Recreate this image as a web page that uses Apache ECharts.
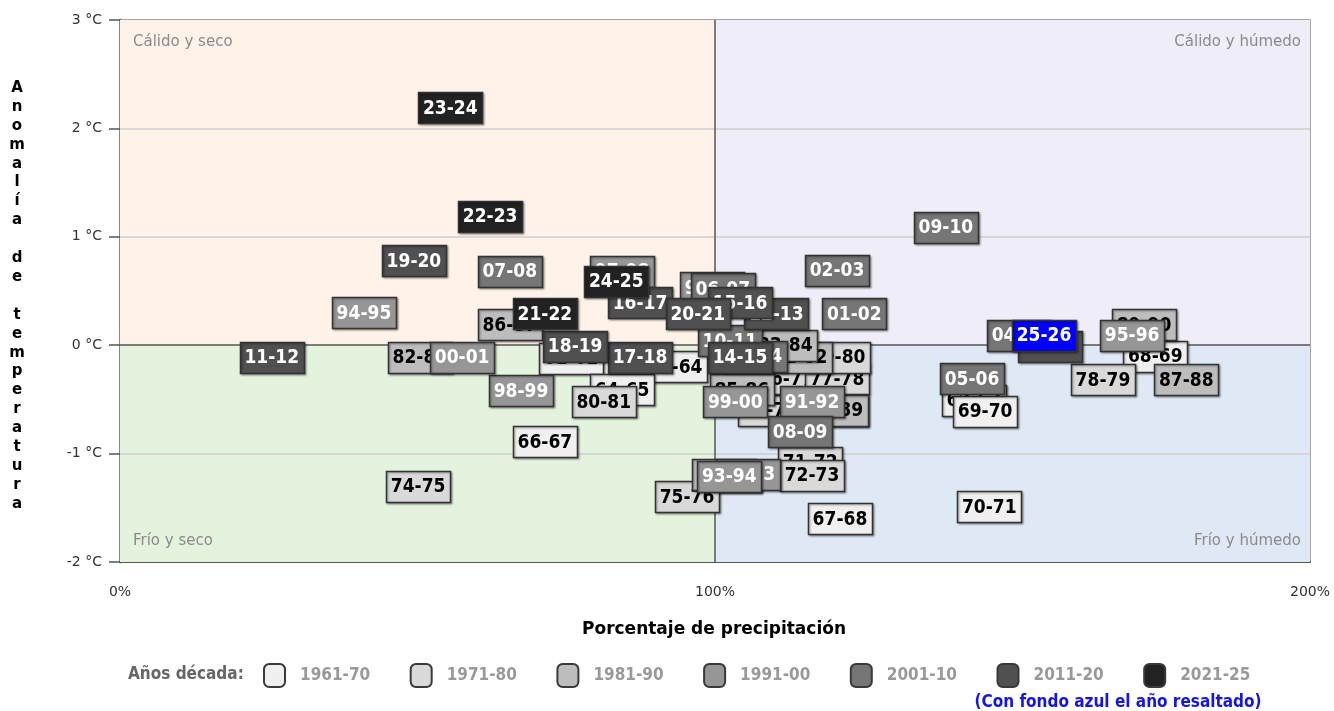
<!DOCTYPE html>
<html>
<head>
<meta charset="utf-8">
<script src="https://cdn.jsdelivr.net/npm/echarts@6/dist/echarts.min.js"></script>
<style>html,body{margin:0;padding:0;background:#fff}#c{width:1334px;height:711px}</style>
</head>
<body>
<div id="c"></div>
<script>
// Season labels (chronological)
const labels = ['61-62','62-63','63-64','64-65','65-66','66-67','67-68','68-69','69-70','70-71',
  '71-72','72-73','73-74','74-75','75-76','76-77','77-78','78-79','79-80','80-81',
  '81-82','82-83','83-84','84-85','85-86','86-87','87-88','88-89','89-90','90-91',
  '91-92','92-93','93-94','94-95','95-96','96-97','97-98','98-99','99-00','00-01',
  '01-02','02-03','03-04','04-05','05-06','06-07','07-08','08-09','09-10','10-11',
  '11-12','12-13','13-14','14-15','15-16','16-17','17-18','18-19','19-20','20-21',
  '21-22','22-23','23-24','24-25','25-26'];
// Precipitation percentage
const precip = [75.8,143.5,93.3,84.4,102.4,71.4,121.0,174.0,145.4,146.1,
  116.0,116.3,109.2,50.1,95.3,112.0,120.5,165.2,120.7,81.3,
  114.3,50.4,111.8,120.3,104.5,65.5,179.2,120.3,172.1,101.5,
  116.3,105.5,102.4,41.0,170.1,99.5,84.4,67.4,103.4,57.5,
  123.4,120.5,106.7,151.1,143.2,101.3,65.5,114.3,138.8,102.5,
  25.5,110.3,156.3,104.2,104.2,87.4,87.4,76.5,49.4,97.1,
  71.4,62.2,55.5,83.4,155.3];
// Temperature anomaly (°C)
const anomaly = [-0.12,-0.51,-0.20,-0.41,-1.21,-0.89,-1.60,-0.10,-0.61,-1.49,
  -1.08,-1.20,-0.60,-1.30,-1.40,-0.31,-0.31,-0.32,-0.11,-0.52,
  -0.11,-0.11,0.00,-0.60,-0.41,0.19,-0.32,-0.60,0.19,-1.19,
  -0.52,-1.19,-1.21,0.30,0.09,0.53,0.68,-0.42,-0.52,-0.11,
  0.29,0.69,-0.10,0.09,-0.31,0.52,0.68,-0.80,1.09,0.04,
  -0.11,0.29,-0.01,-0.11,0.39,0.39,-0.11,-0.01,0.78,0.29,
  0.29,1.19,2.19,0.59,0.09];
// Decade index of each season
const decade = [0,0,0,0,0,0,0,0,0,0, 1,1,1,1,1,1,1,1,1,1, 2,2,2,2,2,2,2,2,2,2,
  3,3,3,3,3,3,3,3,3,3, 4,4,4,4,4,4,4,4,4,4, 5,5,5,5,5,5,5,5,5,5, 6,6,6,6,6];
const highlighted = '25-26';
const decadeNames = ['1961-70','1971-80','1981-90','1991-00','2001-10','2011-20','2021-25'];
const xTicks = [0, 100, 200];
const yTicks = [-2, -1, 0, 1, 2, 3];
const quadrantNames = ['Cálido y seco','Cálido y húmedo','Frío y seco','Frío y húmedo'];

const decadeColors = ['#f0f0f0','#d9d9d9','#bdbdbd','#969696','#767676','#505050','#222222'];
const decadeText = ['#000','#000','#000','#fff','#fff','#fff','#fff'];
const FONT = '"DejaVu Sans Condensed","DejaVu Sans",sans-serif';

const chart = echarts.init(document.getElementById('c'));
const W = 64, H = 31;

const series = [];
series.push({
  type: 'scatter', name: 'bg', data: [], z: 1, silent: true,
  markArea: {
    silent: true,
    label: {color: '#8a8a8a', fontSize: 15, fontFamily: '"DejaVu Sans",sans-serif'},
    data: [
      [{xAxis: 0, yAxis: 0, itemStyle: {color: '#fff3e9'}, label: {position: 'insideTopLeft', distance: 13, offset: [0, 2]}, name: quadrantNames[0]}, {xAxis: 100, yAxis: 3}],
      [{xAxis: 100, yAxis: 0, itemStyle: {color: '#efedf7'}, label: {position: 'insideTopRight', distance: 9, offset: [0, 6]}, name: quadrantNames[1]}, {xAxis: 200, yAxis: 3}],
      [{xAxis: 0, yAxis: -2, itemStyle: {color: '#e4f3de'}, label: {position: 'insideBottomLeft', distance: 13}, name: quadrantNames[2]}, {xAxis: 100, yAxis: 0}],
      [{xAxis: 100, yAxis: -2, itemStyle: {color: '#dfe9f5'}, label: {position: 'insideBottomRight', distance: 9, offset: [0, -4]}, name: quadrantNames[3]}, {xAxis: 200, yAxis: 0}]
    ]
  },
  markLine: {
    silent: true, symbol: 'none', label: {show: false}, animation: false,
    data: [
      {yAxis: 1, lineStyle: {color: '#cfcfcf', width: 1.5, type: 'solid'}},
      {yAxis: 2, lineStyle: {color: '#cfcfcf', width: 1.5, type: 'solid'}},
      {yAxis: -1, lineStyle: {color: '#cfcfcf', width: 1.5, type: 'solid'}},
      {yAxis: 0, lineStyle: {color: '#555', width: 1.5, type: 'solid'}},
      {xAxis: 100, lineStyle: {color: '#555', width: 1.5, type: 'solid'}}
    ]
  }
});

decadeNames.forEach((d, k) => {
  series.push({type: 'scatter', name: d, data: [], itemStyle: {color: decadeColors[k], opacity: 1, borderColor: '#3a3a3a', borderWidth: 2}});
});

series.push({
  type: 'custom', name: 'seasons', z: 5,
  data: labels.map((l, i) => [precip[i], anomaly[i], i]),
  encode: {x: 0, y: 1},
  renderItem: function (params, api) {
    const i = api.value(2);
    const p = api.coord([api.value(0), api.value(1)]);
    const hl = labels[i] === highlighted;
    const fill = hl ? '#0000ff' : decadeColors[decade[i]];
    const tc = hl ? '#fff' : decadeText[decade[i]];
    return {
      type: 'group',
      children: [
        {type: 'rect', z2: i * 2,
          shape: {x: Math.round(p[0] - W / 2) + 0.5, y: Math.round(p[1] - H / 2) + 0.5, width: W, height: H},
          style: {fill: fill, stroke: '#333', lineWidth: 1.5, shadowBlur: 2, shadowOffsetX: 1, shadowOffsetY: 1, shadowColor: 'rgba(0,0,0,0.35)'}},
        {type: 'text', z2: i * 2 + 1,
          style: {text: labels[i], x: p[0], y: p[1] + 1, align: 'center', verticalAlign: 'middle',
            fill: tc, font: 'bold 19px ' + FONT}}
      ]
    };
  }
});

const yTitle = 'Anomalía de temperatura'.split('').map(c => c === ' ' ? '' : c).join('\n');

chart.setOption({
  animation: false,
  grid: {left: 120, right: 24, top: 20, bottom: 149, show: true, borderColor: '#888', borderWidth: 1.5},
  xAxis: {
    type: 'value', min: xTicks[0], max: xTicks[xTicks.length - 1], interval: 100,
    axisLine: {show: true, onZero: false, lineStyle: {color: '#555', width: 2}},
    axisTick: {show: false}, splitLine: {show: false},
    axisLabel: {formatter: '{value}%', color: '#333', fontSize: 14, fontFamily: '"DejaVu Sans",sans-serif', margin: 23}
  },
  yAxis: {
    type: 'value', min: yTicks[0], max: yTicks[yTicks.length - 1], interval: 1,
    axisLine: {show: true, onZero: false, lineStyle: {color: '#888', width: 3}},
    axisTick: {show: true, length: 11, lineStyle: {color: '#555', width: 1.5}},
    splitLine: {show: false},
    axisLabel: {formatter: '{value} °C', color: '#333', fontSize: 14, fontFamily: '"DejaVu Sans",sans-serif', margin: 18}
  },
  legend: {
    data: decadeNames, left: 263, top: 663, padding: 0, itemWidth: 21, itemHeight: 23, itemGap: 39.5,
    icon: 'roundRect', selectedMode: false,
    textStyle: {color: '#999', fontWeight: 'bold', fontSize: 17, fontFamily: FONT, padding: [0, 0, 0, 10]}
  },
  graphic: [
    {type: 'text', x: 17, y: 296, style: {text: yTitle, align: 'center', verticalAlign: 'middle', lineHeight: 18.9, font: 'bold 15px "DejaVu Sans",sans-serif', fill: '#000'}},
    {type: 'text', x: 714, y: 630, style: {text: 'Porcentaje de precipitación', align: 'center', verticalAlign: 'middle', font: 'bold 17px "DejaVu Sans",sans-serif', fill: '#000'}},
    {type: 'text', x: 128, y: 675, style: {text: 'Años década:', align: 'left', verticalAlign: 'middle', font: 'bold 17px ' + FONT, fill: '#666'}},
    {type: 'text', x: 1118, y: 703, style: {text: '(Con fondo azul el año resaltado)', align: 'center', verticalAlign: 'middle', font: 'bold 17px ' + FONT, fill: '#1515e6'}}
  ],
  series: series
});
</script>
</body>
</html>
